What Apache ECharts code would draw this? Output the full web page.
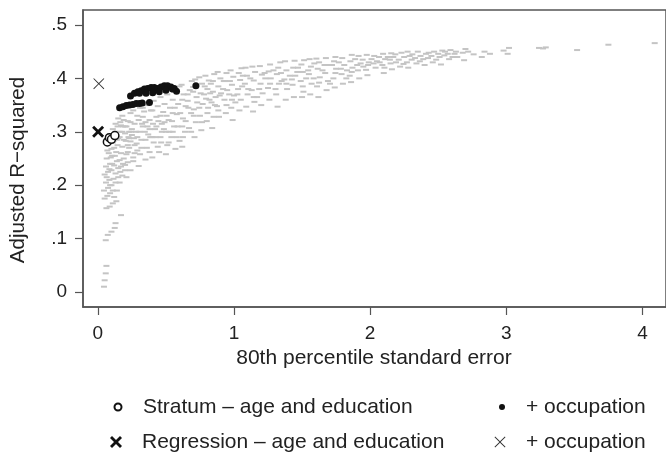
<!DOCTYPE html>
<html>
<head>
<meta charset="utf-8">
<script src="https://cdn.jsdelivr.net/npm/echarts@6/dist/echarts.min.js"></script>
<style>
  html, body { margin: 0; padding: 0; background: #fff; }
  #chart { width: 666px; height: 452px; }
</style>
</head>
<body>
<div id="chart"></div>
<script>
// gray cloud: all other specifications
const grayPoints = [
  // bottom tail
  [0.045, 0.010], [0.05, 0.022], [0.058, 0.035], [0.063, 0.049], [0.058, 0.097], [0.073, 0.107],
  [0.1, 0.113], [0.124, 0.12], [0.13, 0.129], [0.17, 0.144], [0.063, 0.157], [0.087, 0.160],
  [0.11, 0.166], [0.136, 0.170],
  // left edge
  [0.05, 0.175], [0.07, 0.18], [0.09, 0.185], [0.12, 0.178], [0.045, 0.19], [0.075, 0.195],
  [0.1, 0.2], [0.14, 0.19], [0.06, 0.205], [0.085, 0.21], [0.115, 0.212], [0.16, 0.205],
  [0.05, 0.22], [0.075, 0.225], [0.1, 0.228], [0.13, 0.222], [0.18, 0.218], [0.06, 0.235],
  [0.09, 0.24], [0.12, 0.237], [0.15, 0.232], [0.2, 0.228], [0.065, 0.25], [0.095, 0.252],
  [0.125, 0.255], [0.16, 0.247], [0.22, 0.243], [0.07, 0.265], [0.1, 0.268], [0.135, 0.262],
  [0.17, 0.26], [0.21, 0.258], [0.26, 0.252], [0.08, 0.278], [0.145, 0.275], [0.18, 0.272],
  [0.23, 0.27], [0.29, 0.265], [0.09, 0.295], [0.15, 0.288], [0.19, 0.285], [0.24, 0.282],
  [0.11, 0.305], [0.16, 0.3], [0.2, 0.297], [0.25, 0.294], [0.13, 0.315], [0.17, 0.312],
  [0.21, 0.31], [0.15, 0.325], [0.19, 0.322],
  [0.12, 0.27], [0.14, 0.285], [0.16, 0.29], [0.18, 0.3], [0.2, 0.31], [0.22, 0.32],
  [0.12, 0.29], [0.18, 0.33], [0.17, 0.235], [0.14, 0.245], [0.19, 0.25], [0.2, 0.238],
  [0.065, 0.215], [0.085, 0.23], [0.105, 0.24], [0.11, 0.19], [0.09, 0.2], [0.13, 0.205],
  [0.15, 0.215], [0.165, 0.225], [0.185, 0.24], [0.08, 0.26], [0.11, 0.28], [0.105, 0.255],
  [0.115, 0.283], [0.13, 0.3], [0.145, 0.31], [0.165, 0.318], [0.185, 0.31],
  // 0.2 - 0.6
  [0.21, 0.215], [0.22, 0.262], [0.23, 0.288], [0.24, 0.318], [0.24, 0.228], [0.26, 0.245],
  [0.27, 0.275], [0.28, 0.3], [0.29, 0.33], [0.3, 0.236], [0.31, 0.258], [0.32, 0.285],
  [0.33, 0.31], [0.34, 0.338], [0.35, 0.248], [0.36, 0.27], [0.37, 0.295], [0.38, 0.322],
  [0.39, 0.34], [0.4, 0.252], [0.41, 0.28], [0.42, 0.305], [0.43, 0.328], [0.44, 0.348],
  [0.45, 0.262], [0.46, 0.29], [0.47, 0.315], [0.48, 0.337], [0.5, 0.258], [0.5, 0.3],
  [0.51, 0.275], [0.52, 0.322], [0.53, 0.345], [0.54, 0.29], [0.55, 0.36], [0.56, 0.31],
  [0.57, 0.268], [0.58, 0.333], [0.59, 0.352], [0.6, 0.283], [0.26, 0.34], [0.31, 0.345],
  [0.36, 0.35], [0.41, 0.358], [0.46, 0.365], [0.51, 0.37], [0.56, 0.375], [0.6, 0.385],
  [0.25, 0.305], [0.27, 0.315], [0.3, 0.322], [0.33, 0.328], [0.35, 0.318], [0.38, 0.305],
  [0.4, 0.29], [0.43, 0.31], [0.46, 0.33], [0.49, 0.318], [0.44, 0.272], [0.38, 0.262],
  [0.32, 0.27], [0.27, 0.26], [0.22, 0.275], [0.55, 0.3], [0.58, 0.29], [0.52, 0.28],
  [0.47, 0.3], [0.35, 0.285], [0.29, 0.29], [0.23, 0.3], [0.24, 0.335], [0.33, 0.345],
  [0.4, 0.34], [0.49, 0.352], [0.55, 0.335],
  [0.205, 0.283], [0.225, 0.29], [0.245, 0.3], [0.265, 0.288], [0.285, 0.278], [0.305, 0.3],
  [0.325, 0.315], [0.345, 0.3], [0.365, 0.31], [0.385, 0.29], [0.405, 0.315], [0.425, 0.29],
  [0.445, 0.32], [0.465, 0.28], [0.485, 0.305], [0.505, 0.33], [0.525, 0.3], [0.545, 0.32],
  [0.565, 0.345], [0.585, 0.31],
  // 0.6 - 1.7
  [0.62, 0.272], [0.64, 0.30], [0.625, 0.325], [0.645, 0.348], [0.63, 0.37], [0.615, 0.388],
  [0.62, 0.31], [0.62, 0.36], [0.66, 0.37], [0.605, 0.335], [0.625, 0.29], [0.645, 0.32],
  [0.67, 0.307], [0.685, 0.335], [0.66, 0.358], [0.675, 0.378], [0.69, 0.395], [0.665, 0.345],
  [0.685, 0.3],
  [0.71, 0.29], [0.72, 0.318], [0.705, 0.342], [0.725, 0.365], [0.7, 0.384], [0.715, 0.398],
  [0.7, 0.375], [0.73, 0.355], [0.705, 0.33], [0.725, 0.385],
  [0.76, 0.303], [0.75, 0.33], [0.77, 0.352], [0.755, 0.372], [0.765, 0.39], [0.745, 0.402],
  [0.78, 0.37], [0.745, 0.345], [0.765, 0.318], [0.785, 0.385],
  [0.8, 0.32], [0.81, 0.345], [0.795, 0.362], [0.805, 0.38], [0.815, 0.396], [0.79, 0.405],
  [0.82, 0.36], [0.805, 0.335], [0.825, 0.372],
  [0.84, 0.307], [0.85, 0.328], [0.835, 0.355], [0.845, 0.375], [0.83, 0.39], [0.855, 0.408],
  [0.86, 0.35], [0.845, 0.395], [0.865, 0.365],
  [0.89, 0.328], [0.875, 0.348], [0.895, 0.368], [0.885, 0.385], [0.9, 0.4], [0.88, 0.412],
  [0.885, 0.34], [0.905, 0.372],
  [0.94, 0.335], [0.93, 0.36], [0.95, 0.378], [0.935, 0.395], [0.945, 0.41], [0.92, 0.38],
  [0.925, 0.395], [0.945, 0.35], [0.965, 0.37],
  [0.99, 0.322], [0.98, 0.345], [1.0, 0.368], [0.985, 0.388], [0.995, 0.403], [0.975, 0.415],
  [0.97, 0.395], [1.01, 0.355], [0.985, 0.36], [1.025, 0.37],
  [1.04, 0.34], [1.05, 0.36], [1.03, 0.38], [1.045, 0.397], [1.035, 0.41], [1.055, 0.419],
  [1.06, 0.385], [1.065, 0.405],
  [1.09, 0.347], [1.1, 0.37], [1.08, 0.39], [1.095, 0.405], [1.085, 0.42], [1.12, 0.4],
  [1.105, 0.38],
  [1.14, 0.338], [1.15, 0.356], [1.13, 0.378], [1.145, 0.396], [1.155, 0.412], [1.135, 0.422],
  [1.17, 0.365], [1.145, 0.365], [1.185, 0.38],
  [1.2, 0.35], [1.21, 0.372], [1.195, 0.39], [1.205, 0.407], [1.19, 0.423], [1.23, 0.4],
  [1.225, 0.41],
  [1.26, 0.36], [1.25, 0.382], [1.27, 0.4], [1.255, 0.413], [1.265, 0.426], [1.29, 0.415],
  [1.265, 0.39], [1.305, 0.38],
  [1.32, 0.347], [1.31, 0.37], [1.33, 0.39], [1.315, 0.408], [1.325, 0.42], [1.34, 0.43],
  [1.35, 0.395], [1.345, 0.41],
  [1.38, 0.36], [1.39, 0.38], [1.37, 0.398], [1.385, 0.415], [1.375, 0.432], [1.41, 0.405],
  [1.385, 0.39], [1.425, 0.398],
  [1.44, 0.365], [1.43, 0.388], [1.45, 0.405], [1.435, 0.42], [1.445, 0.433], [1.47, 0.42],
  [1.465, 0.412],
  [1.5, 0.365], [1.51, 0.375], [1.49, 0.395], [1.505, 0.412], [1.495, 0.426], [1.515, 0.434],
  [1.53, 0.4], [1.505, 0.385],
  [1.56, 0.37], [1.57, 0.39], [1.55, 0.408], [1.565, 0.422], [1.555, 0.436], [1.59, 0.428],
  [1.545, 0.415], [1.585, 0.4],
  [1.62, 0.365], [1.61, 0.385], [1.63, 0.402], [1.615, 0.418], [1.625, 0.43], [1.605, 0.437],
  [1.65, 0.415], [1.625, 0.392],
  [1.68, 0.378], [1.69, 0.395], [1.67, 0.41], [1.685, 0.425], [1.675, 0.438], [1.665, 0.425],
  // 1.7 - 2.7
  [1.74, 0.383], [1.73, 0.4], [1.75, 0.418], [1.735, 0.432], [1.745, 0.44], [1.72, 0.425],
  [1.705, 0.39], [1.745, 0.41],
  [1.8, 0.39], [1.79, 0.408], [1.81, 0.425], [1.795, 0.438], [1.77, 0.43], [1.785, 0.418],
  [1.86, 0.393], [1.85, 0.405], [1.87, 0.42], [1.855, 0.432], [1.865, 0.444], [1.83, 0.415],
  [1.825, 0.4], [1.865, 0.412],
  [1.92, 0.4], [1.91, 0.415], [1.93, 0.428], [1.915, 0.442], [1.89, 0.436], [1.905, 0.425],
  [1.98, 0.406], [1.97, 0.416], [1.99, 0.43], [1.975, 0.444], [1.95, 0.422], [1.945, 0.435],
  [1.985, 0.425],
  [2.04, 0.42], [2.05, 0.432], [2.03, 0.442], [2.01, 0.436], [2.025, 0.428],
  [2.1, 0.41], [2.09, 0.425], [2.11, 0.436], [2.095, 0.446], [2.07, 0.43], [2.065, 0.44],
  [2.105, 0.42],
  [2.16, 0.417], [2.15, 0.428], [2.17, 0.44], [2.155, 0.447], [2.13, 0.44], [2.145, 0.435],
  [2.185, 0.445],
  [2.22, 0.422], [2.21, 0.435], [2.23, 0.448], [2.19, 0.43], [2.245, 0.427],
  [2.28, 0.42], [2.27, 0.43], [2.29, 0.442], [2.275, 0.45], [2.25, 0.44], [2.305, 0.435],
  [2.34, 0.428], [2.33, 0.438], [2.35, 0.45], [2.31, 0.445], [2.365, 0.432],
  [2.4, 0.425], [2.39, 0.436], [2.41, 0.446], [2.37, 0.442], [2.425, 0.438],
  [2.46, 0.43], [2.45, 0.442], [2.47, 0.45], [2.43, 0.448], [2.485, 0.435],
  [2.52, 0.426], [2.51, 0.44], [2.53, 0.452], [2.5, 0.446], [2.545, 0.443],
  [2.58, 0.436], [2.57, 0.446], [2.59, 0.453], [2.55, 0.45], [2.605, 0.44],
  [2.64, 0.44], [2.63, 0.45], [2.62, 0.446],
  [2.69, 0.434], [2.68, 0.448], [2.7, 0.455], [2.72, 0.45], [2.76, 0.445],
  // sparse tail
  [2.82, 0.44], [2.84, 0.45], [2.88, 0.446], [2.98, 0.452], [3.01, 0.446], [3.02, 0.457],
  [3.24, 0.457], [3.27, 0.456], [3.29, 0.458], [3.52, 0.453], [3.75, 0.463], [4.09, 0.466]
];

// Stratum - age and education
const stratumAge = [[0.07, 0.281], [0.085, 0.289], [0.1, 0.286], [0.125, 0.293]];
// Stratum + occupation
const stratumOcc = [
  [0.16, 0.345], [0.184, 0.347], [0.209, 0.349], [0.233, 0.35], [0.257, 0.351], [0.282, 0.353],
  [0.306, 0.353], [0.326, 0.354], [0.379, 0.355],
  [0.24, 0.367], [0.269, 0.372], [0.294, 0.375], [0.318, 0.377], [0.342, 0.38], [0.366, 0.381],
  [0.391, 0.383], [0.415, 0.383], [0.439, 0.381], [0.464, 0.384], [0.488, 0.386], [0.512, 0.386],
  [0.537, 0.384], [0.561, 0.381], [0.578, 0.376],
  [0.306, 0.372], [0.354, 0.372], [0.403, 0.373], [0.451, 0.375], [0.5, 0.378], [0.548, 0.38],
  [0.72, 0.386]
];
// Regression - age and education
const regressionAge = [[0.002, 0.3]];
// Regression + occupation
const regressionOcc = [[0.007, 0.39]];

const xTicks = [0, 1, 2, 3, 4];
const yTicks = [0, 0.1, 0.2, 0.3, 0.4, 0.5];
const yTickLabels = ['0', '.1', '.2', '.3', '.4', '.5'];

const FONT = 'Liberation Sans, Arial, Helvetica, sans-serif';
const boldX = 'path://M0,2 L2,0 L6,4 L10,0 L12,2 L8,6 L12,10 L10,12 L6,8 L2,12 L0,10 L4,6 Z';
const thinX = 'path://M0,0.7 L0.7,0 L6,5.3 L11.3,0 L12,0.7 L6.7,6 L12,11.3 L11.3,12 L6,6.7 L0.7,12 L0,11.3 L5.3,6 Z';

const chart = echarts.init(document.getElementById('chart'));

// the legend box starts at the icon's left edge, the text starts itemWidth + 5 after the item origin
function legendAt(name, iconCenter, textStart, top, h) {
  const w = 2 * (textStart - iconCenter - 5);
  return {
    data: [name],
    left: iconCenter - h / 2,
    top: top,
    padding: 0,
    itemWidth: w,
    itemHeight: h,
    selectedMode: false,
    formatter: n => (n.indexOf('occ') === 0 ? '+ occupation' : n),
    textStyle: { fontFamily: FONT, fontSize: 21, color: '#222', lineHeight: 24 }
  };
}

chart.setOption({
  animation: false,
  grid: {
    left: 83, top: 10, right: -5, bottom: 145,
    show: true, borderColor: '#555', borderWidth: 1.5
  },
  xAxis: {
    type: 'value',
    min: -0.109,
    max: 4.173,
    name: '80th percentile standard error',
    nameLocation: 'middle',
    nameGap: 38,
    nameTextStyle: { fontFamily: FONT, fontSize: 21, color: '#222', padding: [0, 1, 0, 0] },
    axisLine: { onZero: false, lineStyle: { color: '#555', width: 1.5 } },
    axisTick: { customValues: xTicks, length: 8, lineStyle: { color: '#555', width: 1.2 } },
    axisLabel: { customValues: xTicks, margin: 17, fontFamily: FONT, fontSize: 19, color: '#222' },
    splitLine: { show: false }
  },
  yAxis: {
    type: 'value',
    min: -0.028,
    max: 0.528,
    axisLine: { show: true, onZero: false, lineStyle: { color: '#555', width: 1.5 } },
    axisTick: { show: true, customValues: yTicks, length: 8, lineStyle: { color: '#555', width: 1.2 } },
    axisLabel: {
      customValues: yTicks, margin: 16, fontFamily: FONT, fontSize: 19, color: '#222',
      formatter: v => yTickLabels[yTicks.findIndex(t => Math.abs(t - v) < 1e-6)]
    },
    splitLine: { show: false }
  },
  graphic: [{
    type: 'text',
    x: 18, y: 170,
    rotation: Math.PI / 2,
    style: {
      text: 'Adjusted R\u2212squared',
      font: '20.5px ' + FONT,
      fill: '#222',
      align: 'center',
      verticalAlign: 'middle'
    }
  }],
  legend: [
    legendAt('Stratum \u2013 age and education', 117, 142, 395, 7),
    legendAt('Regression \u2013 age and education', 116, 142, 430, 12),
    legendAt('occStratum', 502, 526, 395, 6),
    legendAt('occRegression', 500, 526, 430, 11)
  ],
  series: [
    {
      name: 'others',
      type: 'scatter',
      data: grayPoints,
      symbol: 'rect',
      symbolSize: [6, 2],
      itemStyle: { color: '#c4c4c4', opacity: 1 },
      silent: true
    },
    {
      name: 'occStratum',
      type: 'scatter',
      data: stratumOcc,
      symbol: 'circle',
      symbolSize: 7,
      itemStyle: { color: '#111', opacity: 1 }
    },
    {
      name: 'Stratum \u2013 age and education',
      type: 'scatter',
      data: stratumAge,
      symbol: 'circle',
      symbolSize: 8,
      itemStyle: { color: '#fff', borderColor: '#111', borderWidth: 1.5, opacity: 1 }
    },
    {
      name: 'Regression \u2013 age and education',
      type: 'scatter',
      data: regressionAge,
      symbol: boldX,
      symbolSize: 12,
      itemStyle: { color: '#111', opacity: 1 }
    },
    {
      name: 'occRegression',
      type: 'scatter',
      data: regressionOcc,
      symbol: thinX,
      symbolSize: 11,
      itemStyle: { color: '#333', opacity: 1 }
    }
  ]
});
</script>
</body>
</html>
